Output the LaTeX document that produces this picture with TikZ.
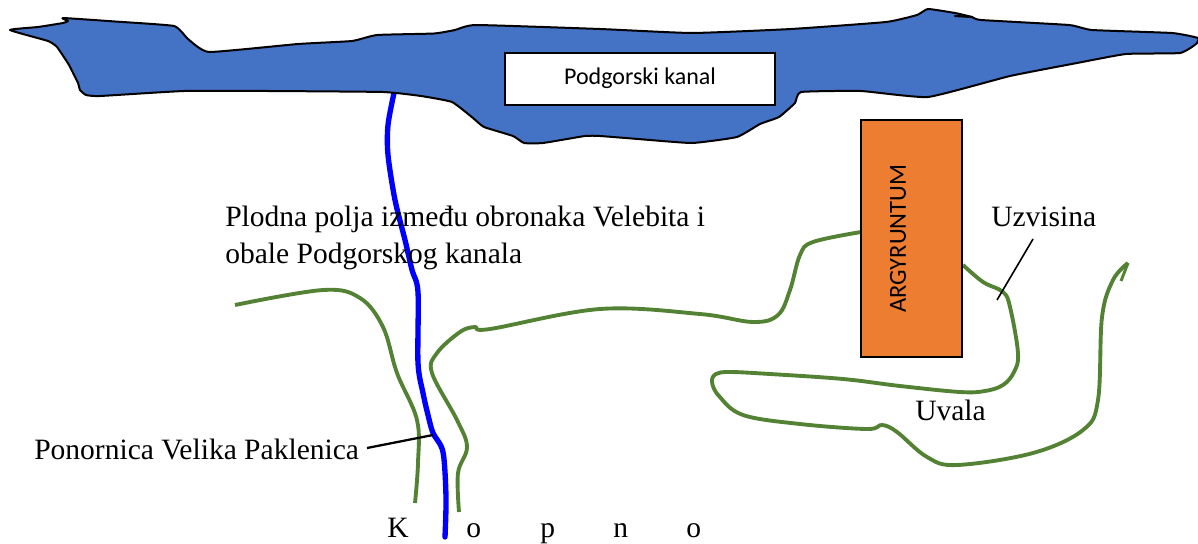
\documentclass[tikz,border=0pt]{standalone}
\usepackage{fontspec}
\setmainfont{Liberation Serif}
\newfontfamily\carl{Carlito}
\tikzset{
  lake/.style={draw=black,line width=1.5pt,fill=lakeblue,line join=round},
  river/.style={draw=riverblue,line width=4pt,line cap=round,line join=round},
  shore/.style={draw=shoregreen,line width=2.9pt,line join=round},
  leader/.style={draw=black,line width=1.7pt},
  leaderthin/.style={draw=black,line width=1.2pt},
  lbl/.style={inner sep=0pt,anchor=base west,font=\fontsize{22.15}{26}\selectfont},
  boxlbl/.style={draw=black,line width=1.5pt,inner sep=0pt,font=\carl\fontsize{18}{22}\selectfont}
}
\definecolor{lakeblue}{HTML}{4472C4}
\definecolor{riverblue}{HTML}{0000FF}
\definecolor{shoregreen}{HTML}{548235}
\definecolor{argorange}{HTML}{ED7D31}
\begin{document}
\begin{tikzpicture}[x=0.75pt,y=-0.75pt]
\useasboundingbox (0,0) rectangle (1198,543);
% river
\draw[river] plot[smooth,tension=0.5] coordinates {(394,93) (388,125) (388,155) (395,200) (405,240) (412,270) (418,292) (418,363) (423,393) (428,415) (433,433) (443,452) (446,497) (445,537)};
% lake
\draw[lake] plot[smooth cycle,tension=0.25] coordinates {(10,30) (38,27) (63,23) (68,21) (63,18) (115,21.5) (174,26) (188,39) (209,52) (298,44) (352,41) (377,35) (434,33.5) (455,30) (476,25) (600,29) (692,33) (791,29) (886,22) (917,15) (928,9) (955,13) (972,17) (981,20) (1069,25) (1092,30) (1172,33) (1198,38) (1196,44) (1180,53) (1126,54) (1077,63) (1010,76) (928,97) (861,91) (801,92) (795,103) (779,117) (760,124) (737,137) (692,143) (638,139) (600,136) (585,136) (543,143) (524,143) (513,136) (484,127) (473,118) (452,102) (421,96) (383,92) (268,91) (184,91) (100,96) (86,95) (80,90) (78,83) (69,65) (57,47) (48,41)};
\draw[line width=1.6pt,line cap=round] (955,16) -- (972,17);
% shores
\draw[shore] plot[smooth,tension=0.6] coordinates {(235,305) (323,290) (360,298) (383,327) (397,373) (417,420) (418,463) (415,503)};
\draw[shore] plot[smooth,tension=0.6] coordinates {(459,512) (458,473) (467,447) (457,420) (432,373) (437,353) (460,332) (475,327) (490,329) (600,309) (700,314) (753,322) (778,315) (790,290) (800,255) (813,242) (861,232)};
\draw[shore] plot[smooth,tension=0.6] coordinates {(963,265) (983,282) (1003,292) (1010,307) (1018,353) (1014,372) (1003,385) (985,391) (960,392) (900,386) (843,379) (770,374) (730,372) (716,374) (712,382) (719,396) (743,415) (800,424) (867,429) (882,425) (897,432) (927,457) (957,465) (1033,453) (1083,430) (1098,400) (1102,317) (1113,280) (1128,263)};
\draw[shore,line width=2.2pt] (1128,263) -- (1121,281);
% boxes
\node[boxlbl,fill=white,minimum width=269.5*0.75pt,minimum height=52*0.75pt] (kanal) at (640,78.5) {Podgorski kanal};
\node[boxlbl,fill=argorange,minimum width=101*0.75pt,minimum height=237*0.75pt] (arg) at (911.5,238.5) {};
\node[inner sep=0pt,rotate=90,font=\carl\fontsize{18.4}{22}\selectfont] (argt) at (898,238.5) {ARGYRUNTUM};
% labels
\node[lbl] (polja1) at (225,226) {Plodna polja između obronaka Velebita i};
\node[lbl] (polja2) at (225,263) {obale Podgorskog kanala};
\node[lbl] (ponor) at (34,459) {Ponornica Velika Paklenica};
\node[lbl] (uzv) at (991,226) {Uzvisina};
\node[lbl] (uva) at (915,420) {Uvala};
\node[lbl] (k1) at (387,537) {K};
\node[lbl] (k2) at (466,537) {o};
\node[lbl] (k3) at (540,537) {p};
\node[lbl] (k4) at (613,537) {n};
\node[lbl] (k5) at (686,537) {o};
% leaders
\coordinate (ponorend) at (433,435);
\coordinate (ponorstart) at (367,448);
\coordinate (uzvstart) at (1033,239);
\coordinate (uzvend) at (997,300);
\draw[leader] (ponorstart) -- (ponorend);
\draw[leaderthin] (uzvstart) -- (uzvend);
\end{tikzpicture}
\end{document}
